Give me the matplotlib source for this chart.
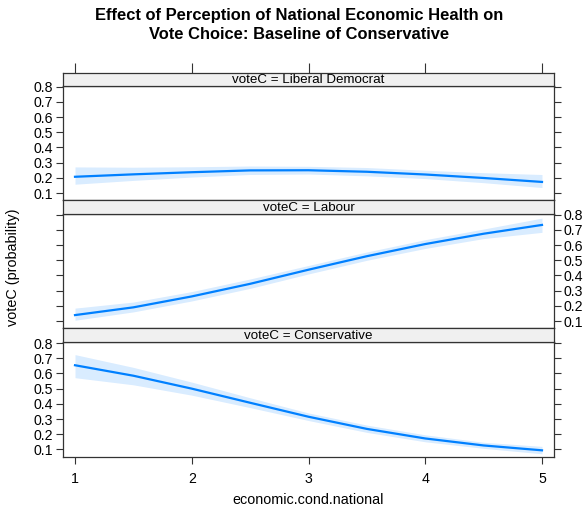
import matplotlib
matplotlib.use("Agg")
import matplotlib.pyplot as plt
import numpy as np

plt.rcParams['font.family'] = ['Liberation Sans', 'DejaVu Sans']

x = [1, 1.5, 2, 2.5, 3, 3.5, 4, 4.5, 5]

panels = ["voteC = Liberal Democrat", "voteC = Labour", "voteC = Conservative"]

libdem_fit = [0.207, 0.223, 0.237, 0.249, 0.250, 0.240, 0.222, 0.199, 0.173]
libdem_lo = [0.158, 0.183, 0.205, 0.222, 0.225, 0.213, 0.195, 0.168, 0.136]
libdem_hi = [0.272, 0.270, 0.273, 0.278, 0.276, 0.268, 0.250, 0.234, 0.222]

labour_fit = [0.139, 0.190, 0.262, 0.345, 0.438, 0.527, 0.607, 0.675, 0.733]
labour_lo = [0.105, 0.160, 0.232, 0.315, 0.410, 0.500, 0.578, 0.643, 0.684]
labour_hi = [0.185, 0.225, 0.294, 0.377, 0.466, 0.555, 0.636, 0.706, 0.778]

cons_fit = [0.654, 0.585, 0.500, 0.407, 0.315, 0.235, 0.172, 0.126, 0.094]
cons_lo = [0.572, 0.525, 0.457, 0.375, 0.290, 0.212, 0.150, 0.107, 0.071]
cons_hi = [0.724, 0.640, 0.543, 0.440, 0.340, 0.260, 0.196, 0.147, 0.120]

fits = [libdem_fit, labour_fit, cons_fit]
los = [libdem_lo, labour_lo, cons_lo]
his = [libdem_hi, labour_hi, cons_hi]

yticks = [0.1, 0.2, 0.3, 0.4, 0.5, 0.6, 0.7, 0.8]
xticks = [1, 2, 3, 4, 5]

W, H = 587, 507
fig = plt.figure(figsize=(W / 100, H / 100), dpi=100)

left, right = 63, 554
# (strip_top, strip_bottom, plot_bottom) in pixels
rows = [(72.7, 86.0, 200.3), (200.3, 214.0, 328.3), (328.3, 342.3, 456.7)]
xlim = (1 - 12 / 116.75, 5 + 12 / 116.75)
ylim = (0.052, 0.805)
line_c = '#0080ff'
frame_c = '#333333'

def fx(px):
    return px / W

def fy(py):
    return 1 - py / H

for i, (st, sb, pb) in enumerate(rows):
    ax = fig.add_axes([fx(left), fy(pb), fx(right) - fx(left), fy(sb) - fy(pb)])
    ax.fill_between(x, los[i], his[i], color=line_c, alpha=0.15, linewidth=0)
    ax.plot(x, fits[i], color=line_c, linewidth=1.6)
    ax.set_xlim(*xlim)
    ax.set_ylim(*ylim)
    ax.set_yticks(yticks)
    ax.set_yticklabels([f"{v:.1f}" for v in yticks], fontsize=10.2)
    ax.tick_params(axis='y', which='both', direction='out', length=5, width=0.8,
                   color=frame_c, left=True, right=True,
                   labelleft=(i != 1), labelright=(i == 1), pad=2)
    ax.set_xticks(xticks)
    if i == 2:
        ax.set_xticklabels([str(v) for v in xticks], fontsize=10.2)
        ax.tick_params(axis='x', direction='out', length=5, width=0.8, color=frame_c,
                       bottom=True, top=False, pad=6)
    else:
        ax.tick_params(axis='x', bottom=False, top=False, labelbottom=False)
    for s in ax.spines.values():
        s.set_color(frame_c)
        s.set_linewidth(0.9)

    sax = fig.add_axes([fx(left), fy(sb), fx(right) - fx(left), fy(st) - fy(sb)])
    sax.set_facecolor('#f0f0f0')
    sax.set_xlim(*xlim)
    sax.set_yticks([])
    if i == 0:
        sax.set_xticks(xticks)
        sax.tick_params(axis='x', direction='out', length=7, width=0.8, color=frame_c,
                        bottom=False, top=True, labelbottom=False, labeltop=False)
    else:
        sax.set_xticks([])
    for s in sax.spines.values():
        s.set_color(frame_c)
        s.set_linewidth(0.9)
    sax.text(0.5, 0.45, panels[i], transform=sax.transAxes, ha='center', va='center',
             fontsize=9.6)

fig.text(fx(299), fy(25), "Effect of Perception of National Economic Health on\nVote Choice: Baseline of Conservative",
         ha='center', va='center', fontsize=11.9, fontweight='bold', linespacing=1.3)
fig.text(fx(13), fy(267), "voteC (probability)", rotation=90, ha='center', va='center',
         fontsize=10.4)
fig.text(fx(308.5), fy(500), "economic.cond.national", ha='center', va='center', fontsize=10.4)

fig.savefig("out.png", dpi=100)
